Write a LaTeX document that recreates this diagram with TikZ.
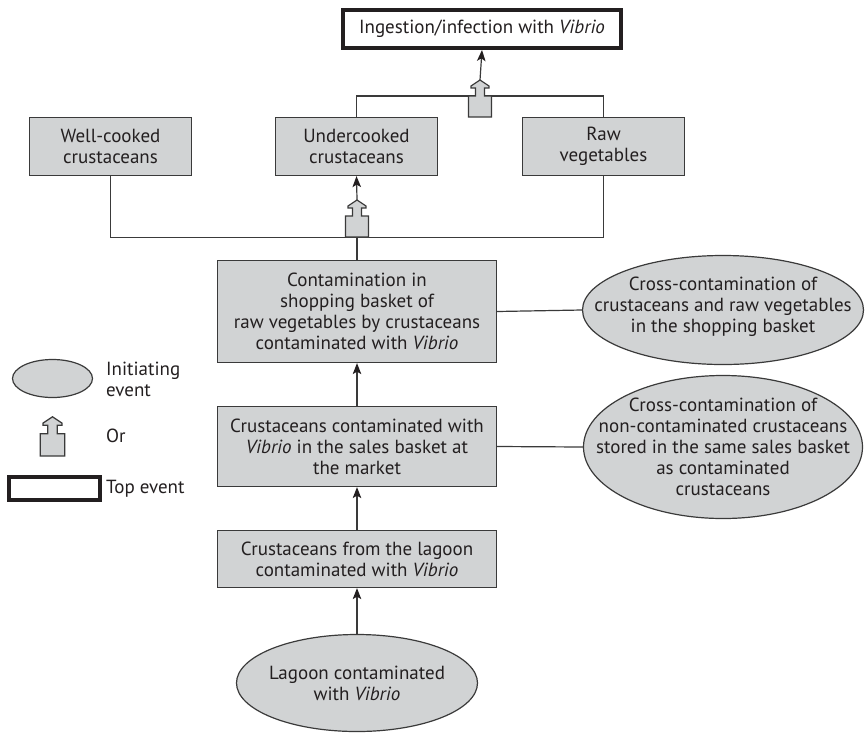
\documentclass[tikz,border=0pt]{standalone}
\usepackage{fontspec}
\setmainfont{PT Sans}
\usetikzlibrary{shapes.geometric,arrows.meta}
\definecolor{boxfill}{HTML}{D1D3D4}
\definecolor{ink}{HTML}{231F20}
\definecolor{wire}{HTML}{3A3A3A}
\tikzset{
  every node/.style={font=\fontsize{19}{21}\selectfont, text=ink},
  eventbox/.style={draw=wire, fill=boxfill, line width=1.2pt, rectangle,
    inner sep=0pt, align=center},
  topbox/.style={draw=ink, fill=white, line width=4pt, rectangle,
    inner sep=0pt, align=center},
  initevent/.style={draw=wire, fill=boxfill, line width=1.2pt, ellipse,
    inner sep=0pt},
  txt/.style={align=center, inner sep=0pt},
  legtxt/.style={align=left, inner sep=0pt, anchor=west},
  wireline/.style={draw=wire, line width=1.2pt},
  uparrow/.style={wireline, -{Stealth[length=11pt,width=8.5pt,inset=2.5pt,color=ink]}},
  orgate/.pic={
    \draw[draw=wire, fill=boxfill, line width=1.2pt, line join=miter]
      (-11.5,0) -- (-11.5,-21) -- (-4.5,-21) -- (-4.5,-29) -- (-9,-29)
      -- (-9,-31) -- (0,-37) -- (9,-31) -- (9,-29) -- (4.5,-29)
      -- (4.5,-21) -- (11.5,-21) -- (11.5,0) -- cycle;
  }
}
\begin{document}
\begin{tikzpicture}[x=1pt, y=-1pt]
\useasboundingbox (0,0) rectangle (866,734);

% top event
\node[topbox, minimum width=278pt, minimum height=38pt] (top) at (482,29)
  {Ingestion/infection with \textit{Vibrio}};

% intermediate events
\node[eventbox, minimum width=162pt, minimum height=58pt] (well) at (110.5,146.5)
  {Well-cooked\\crustaceans};
\node[eventbox, minimum width=162pt, minimum height=58pt] (under) at (356.5,146.5)
  {Undercooked\\crustaceans};
\node[eventbox, minimum width=162pt, minimum height=58pt] (raw) at (603.5,146.5)
  {Raw\\vegetables};

\node[eventbox, minimum width=279pt, minimum height=102pt] (basket) at (357,311.5)
  {Contamination in\\shopping basket of\\raw vegetables by crustaceans\\contaminated with \textit{Vibrio}};
\node[eventbox, minimum width=279pt, minimum height=80pt] (sales) at (357,446.5)
  {Crustaceans contaminated with\\\textit{Vibrio} in the sales basket at\\the market};
\node[eventbox, minimum width=279pt, minimum height=57pt] (lagoonc) at (357,559)
  {Crustaceans from the lagoon\\contaminated with \textit{Vibrio}};

% initiating events
\node[initevent, minimum width=281pt, minimum height=109pt] (crossa) at (723,310) {};
\node[txt] (crossat) at (723,307)
  {Cross-contamination of\\crustaceans and raw vegetables\\in the shopping basket};
\node[initevent, minimum width=279pt, minimum height=143pt] (crossb) at (723,447) {};
\node[txt] (crossbt) at (723,447)
  {Cross-contamination of\\non-contaminated crustaceans\\stored in the same sales basket\\as contaminated\\crustaceans};
\node[initevent, minimum width=241pt, minimum height=97pt] (lagoon) at (357,683) {};
\node[txt] (lagoont) at (357,683)
  {Lagoon contaminated\\with \textit{Vibrio}};

% connections of the upper OR gate
\draw[wireline] (under.north) -- ++(0,-21) -| (raw.north);
\pic at (480,117) {orgate};
\coordinate (gatetop) at (480,80);
\draw[uparrow] (gatetop) -- (top.south);

% connections of the lower OR gate
\draw[wireline] (well.south) -- ++(0,61) -| (raw.south);
\draw[wireline] (basket.north) -- ++(0,-23);
\pic at (357,237) {orgate};
\coordinate (gatelow) at (357,200);
\draw[uparrow] (gatelow) -- (under.south);

% main chain
\draw[uparrow] (sales.north) -- (basket.south);
\draw[uparrow] (lagoonc.north) -- (sales.south);
\draw[uparrow] (lagoon.north) -- (lagoonc.south);
\draw[wireline] (basket.east) -- (crossa.west);
\draw[wireline] (sales.east) -- (crossb.west);

% legend
\node[initevent, minimum width=80pt, minimum height=38pt] (legevent) at (52.5,378.5) {};
\node[legtxt] (legeventt) at (106,379) {Initiating\\event};
\pic[scale=1.06] at (52.5,456) {orgate};
\node[legtxt] (legort) at (106,436) {Or};
\node[topbox, minimum width=91pt, minimum height=23pt] (legtop) at (54.5,488.5) {};
\node[legtxt] (legtopt) at (106,489) {Top event};
\end{tikzpicture}
\end{document}
